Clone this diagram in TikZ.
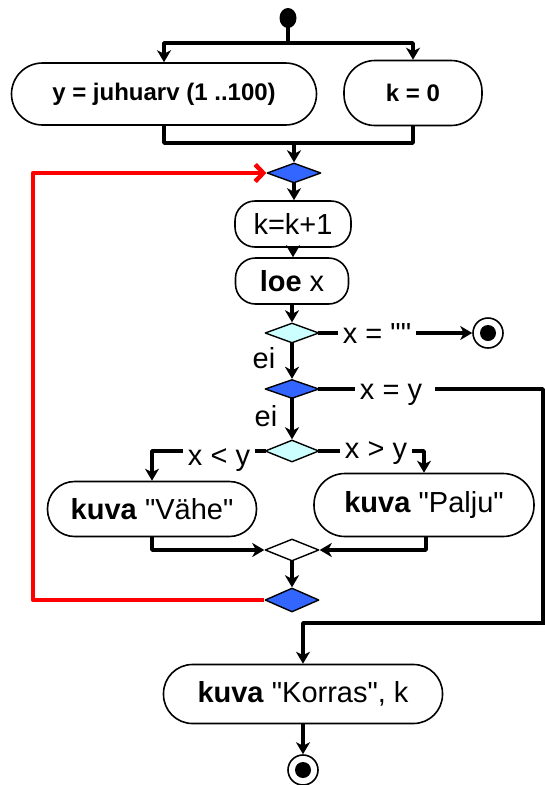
\documentclass[tikz,border=0pt]{standalone}
\usepackage{fontspec}
\setmainfont{Liberation Sans}[Ligatures=TeXOff]
\usetikzlibrary{arrows.meta,shapes.geometric}
\definecolor{otsussinine}{RGB}{51,102,255}
\definecolor{otsushele}{RGB}{204,255,255}
\begin{document}
\begin{tikzpicture}[x=1pt,y=-1pt,line join=round,font=\fontsize{29}{33}\selectfont,
	tegevus/.style={draw,line width=1.6pt,rounded corners=#1,inner sep=0pt},
	otsus/.style={diamond,draw,line width=1.4pt,inner sep=0pt,minimum width=54pt,minimum height=21pt,fill=#1},
	lopp/.style={circle,draw,line width=1.6pt,minimum size=30pt,inner sep=0pt,path picture={\fill (path picture bounding box.center) circle (8pt);}},
	silt/.style={anchor=base,inner xsep=7pt,inner ysep=0pt},
	joon/.style={line width=3.6pt,line cap=rect},
	nool/.style={joon,-{Stealth[length=12pt,width=14pt,inset=3.5pt]}},
	tagasi/.style={line width=4.5pt,red,-{Straight Barb[length=8pt,width=17pt]}}]
		\useasboundingbox (0,0) rectangle (544,785);
		\def\pealkiri{\bfseries\fontsize{24}{28}\selectfont}
		\node[ellipse,fill,minimum width=17pt,minimum height=20pt,inner sep=0pt] (algus) at (288,18) {};
		\node[tegevus=31pt,minimum width=305pt,minimum height=62pt,font=\pealkiri] (juhu) at (164,94) {y = juhuarv (1 ..100)};
		\node[tegevus=31pt,minimum width=138pt,minimum height=65pt,font=\pealkiri] (knull) at (413,93) {k = 0};
		\node[otsus=otsussinine,minimum height=20pt] (d1) at (294,173) {};
		\node[tegevus=20pt,minimum width=116pt,minimum height=46pt] (kk) at (293,224) {k=k+1};
		\node[tegevus=20pt,minimum width=113pt,minimum height=46pt] (loe) at (292,281) {\textbf{loe} x};
		\node[otsus=otsushele,minimum height=20pt] (d2) at (292,333) {};
		\node[silt] (tyhi) at (377,343) {x = ""};
		\node[lopp] (lopp1) at (488,333) {};
		\node[silt] (ei1) at (264,368) {ei};
		\node[otsus=otsussinine,minimum height=19pt] (d3) at (292,389) {};
		\node[silt] (vordne) at (391,399) {x = y};
		\node[silt] (ei2) at (266,426) {ei};
		\node[otsus=otsushele,minimum height=22pt] (d4) at (292,451) {};
		\node[silt] (vaiksem) at (219,465) {x < y};
		\node[silt] (suurem) at (376,458) {x > y};
		\node[tegevus=27pt,minimum width=209pt,minimum height=55pt] (vahe) at (152,509) {\textbf{kuva} "Vähe"};
		\node[tegevus=31pt,minimum width=220pt,minimum height=63pt] (palju) at (424,505) {\textbf{kuva} "Palju"};
		\node[otsus=white,minimum height=22pt] (d5) at (292,550) {};
		\node[otsus=otsussinine,minimum height=24pt] (d6) at (292,600) {};
		\node[tegevus=29pt,minimum width=279pt,minimum height=59pt] (korras) at (303,694) {\textbf{kuva} "Korras", k};
		\node[lopp] (lopp2) at (303,770) {};
		\coordinate (hargnemine) at (288,43);
		\coordinate (uhine) at (294,143);
		\coordinate (nurk) at (543,623);
		\coordinate (punane) at (33,600);
		\draw[joon] (algus) -- (hargnemine);
		\draw[nool] (hargnemine) -| (juhu.north);
		\draw[nool] (hargnemine) -| (knull.north);
		\draw[joon] (juhu.south) |- (uhine) -| (knull.south);
		\draw[nool] (uhine) -- (d1.north);
		\draw[nool] (d1.south) -- (d1.south |- kk.north);
		\draw[nool] (kk.south) -- (kk.south |- loe.north);
		\draw[nool] (loe.south) -- (loe.south |- d2.north);
		\draw[joon] (d2.east) -- (d2.east -| tyhi.west);
		\draw[nool] (tyhi.east |- d2.east) -- (lopp1.west);
		\draw[nool] (d2.south) -- (d3.north);
		\draw[joon] (d3.east) -- (d3.east -| vordne.west);
		\draw[joon] ([xshift=8pt]vordne.east |- d3.east) -- (d3.east -| nurk) -- (nurk);
		\draw[nool] (nurk) -| (korras.north);
		\draw[nool] (d3.south) -- (d4.north);
		\draw[joon] (d4.west) -- (d4.west -| vaiksem.east);
		\draw[nool] (vaiksem.west |- d4.west) -| (vahe.north);
		\draw[joon] (d4.east) -- (d4.east -| suurem.west);
		\draw[nool] (suurem.east |- d4.east) -| (palju.north);
		\draw[nool] (vahe.south) |- (d5.west);
		\draw[nool] ([xshift=2pt]palju.south) |- (d5.east);
		\draw[nool] (d5.south) -- (d6.north);
		\draw[tagasi] (d6.west) -- (punane) |- (d1.west);
		\draw[nool] (korras.south) -- (lopp2.north);
\end{tikzpicture}
\end{document}
